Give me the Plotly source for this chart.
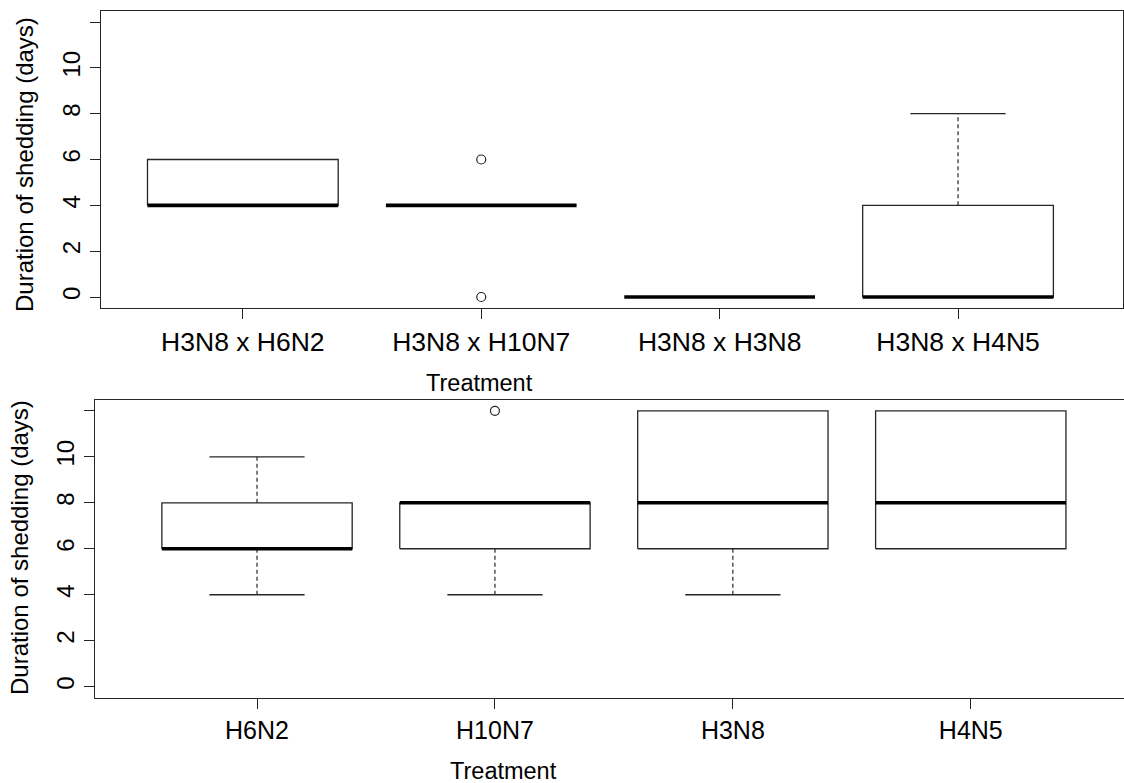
import plotly.graph_objects as go

# Panel 1: co-infection treatments
top_categories = ["H3N8 x H6N2", "H3N8 x H10N7", "H3N8 x H3N8", "H3N8 x H4N5"]
top_lower = [4, 4, 0, 0]
top_q1 = [4, 4, 0, 0]
top_median = [4, 4, 0, 0]
top_q3 = [6, 4, 0, 4]
top_upper = [6, 4, 0, 8]
top_outliers = [[], [6, 0], [], []]

# Panel 2: single-infection treatments
bottom_categories = ["H6N2", "H10N7", "H3N8", "H4N5"]
bottom_lower = [4, 4, 4, 6]
bottom_q1 = [6, 6, 6, 6]
bottom_median = [6, 8, 8, 8]
bottom_q3 = [8, 8, 12, 12]
bottom_upper = [10, 8, 12, 12]
bottom_outliers = [[], [12], [], []]

y_ticks = [0, 2, 4, 6, 8, 10, 12]
y_ticktext = ["0", "2", "4", "6", "8", "10", ""]

FONT = "Liberation Sans, Arial, sans-serif"
LINE = "#262626"
BOX_HALF = 0.4
CAP_HALF = 0.2

fig = go.Figure()


def add_boxes(cats, lower, q1, med, q3, upper, outliers, xa, ya):
    for i, _ in enumerate(cats):
        c = i + 1
        # box outline
        if q3[i] > q1[i]:
            fig.add_trace(go.Scatter(
                x=[c - BOX_HALF, c + BOX_HALF, c + BOX_HALF, c - BOX_HALF, c - BOX_HALF],
                y=[q1[i], q1[i], q3[i], q3[i], q1[i]],
                mode="lines", line=dict(color=LINE, width=1.3),
                xaxis=xa, yaxis=ya, hoverinfo="skip", showlegend=False))
        # upper whisker + cap
        if upper[i] > q3[i]:
            fig.add_trace(go.Scatter(
                x=[c, c], y=[q3[i], upper[i]], mode="lines",
                line=dict(color=LINE, width=1.2, dash="4px,3px"),
                xaxis=xa, yaxis=ya, hoverinfo="skip", showlegend=False))
            fig.add_trace(go.Scatter(
                x=[c - CAP_HALF, c + CAP_HALF], y=[upper[i], upper[i]], mode="lines",
                line=dict(color=LINE, width=1.3),
                xaxis=xa, yaxis=ya, hoverinfo="skip", showlegend=False))
        # lower whisker + cap
        if lower[i] < q1[i]:
            fig.add_trace(go.Scatter(
                x=[c, c], y=[lower[i], q1[i]], mode="lines",
                line=dict(color=LINE, width=1.2, dash="4px,3px"),
                xaxis=xa, yaxis=ya, hoverinfo="skip", showlegend=False))
            fig.add_trace(go.Scatter(
                x=[c - CAP_HALF, c + CAP_HALF], y=[lower[i], lower[i]], mode="lines",
                line=dict(color=LINE, width=1.3),
                xaxis=xa, yaxis=ya, hoverinfo="skip", showlegend=False))
        # median
        fig.add_trace(go.Scatter(
            x=[c - BOX_HALF, c + BOX_HALF], y=[med[i], med[i]], mode="lines",
            line=dict(color="black", width=3.6),
            xaxis=xa, yaxis=ya, hoverinfo="skip", showlegend=False))
        # outliers
        if outliers[i]:
            fig.add_trace(go.Scatter(
                x=[c] * len(outliers[i]), y=outliers[i], mode="markers",
                marker=dict(symbol="circle-open", size=9, color=LINE,
                            line=dict(width=1.2, color=LINE)),
                xaxis=xa, yaxis=ya, hoverinfo="skip", showlegend=False))


add_boxes(top_categories, top_lower, top_q1, top_median, top_q3, top_upper,
          top_outliers, "x", "y")
add_boxes(bottom_categories, bottom_lower, bottom_q1, bottom_median, bottom_q3,
          bottom_upper, bottom_outliers, "x2", "y2")

W, H = 1124, 783

axis_common = dict(
    showline=True, mirror=True, linecolor=LINE, linewidth=1.3,
    ticks="outside", ticklen=10, tickwidth=1.3, tickcolor=LINE,
    showgrid=False, zeroline=False,
    tickfont=dict(family=FONT, size=25, color="black"),
)

fig.update_layout(
    width=W, height=H,
    margin=dict(l=0, r=0, t=0, b=0),
    paper_bgcolor="white", plot_bgcolor="white",
    font=dict(family=FONT, color="black"),
    xaxis=dict(axis_common, domain=[101 / W, 1123 / W], anchor="y",
               range=[0.405, 4.692], tickmode="array",
               tickvals=[1, 2, 3, 4], ticktext=top_categories,
               tickfont=dict(family=FONT, size=26.5, color="black")),
    yaxis=dict(axis_common, domain=[1 - 308 / H, 1 - 11 / H], anchor="x",
               range=[-0.48, 12.48], tickmode="array",
               tickvals=y_ticks, ticktext=y_ticktext, tickangle=-90,
               tickfont=dict(family=FONT, size=24, color="black")),
    xaxis2=dict(axis_common, domain=[95 / W, 1.0], anchor="y2",
                range=[0.319, 4.644], tickmode="array",
                tickvals=[1, 2, 3, 4], ticktext=bottom_categories),
    yaxis2=dict(axis_common, domain=[1 - 698 / H, 1 - 400 / H], anchor="x2",
                range=[-0.49, 12.47], tickmode="array",
                tickvals=y_ticks, ticktext=y_ticktext, tickangle=-90,
                tickfont=dict(family=FONT, size=24, color="black")),
    annotations=[
        dict(text="Duration of shedding (days)", x=24 / W, y=1 - 165 / H,
             xref="paper", yref="paper", xanchor="center", yanchor="middle",
             textangle=-90, showarrow=False,
             font=dict(family=FONT, size=24, color="black")),
        dict(text="Duration of shedding (days)", x=19 / W, y=1 - 548 / H,
             xref="paper", yref="paper", xanchor="center", yanchor="middle",
             textangle=-90, showarrow=False,
             font=dict(family=FONT, size=24, color="black")),
        dict(text="Treatment", x=479 / W, y=1 - 383 / H,
             xref="paper", yref="paper", xanchor="center", yanchor="middle",
             showarrow=False, font=dict(family=FONT, size=23.5, color="black")),
        dict(text="Treatment", x=503 / W, y=1 - 771 / H,
             xref="paper", yref="paper", xanchor="center", yanchor="middle",
             showarrow=False, font=dict(family=FONT, size=23.5, color="black")),
    ],
)

fig.write_html("out.html")
